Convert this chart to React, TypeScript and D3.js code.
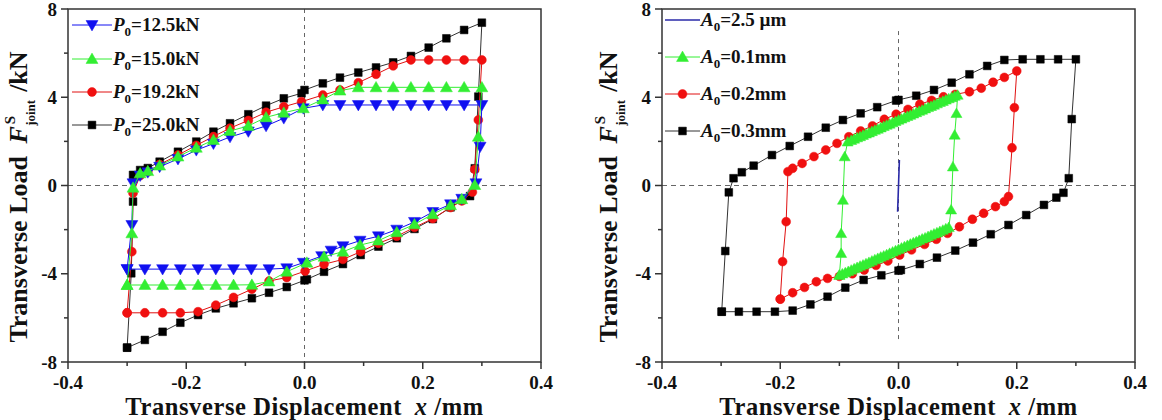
import React from 'react';
import * as d3 from 'd3';

// ---------- axes ----------
const xTicks = [-0.4, -0.2, 0, 0.2, 0.4];
const xTickLabels = ['-0.4', '-0.2', '0.0', '0.2', '0.4'];
const xMinor = [-0.3, -0.1, 0.1, 0.3];
const yTicks = [-8, -4, 0, 4, 8];
const yTickLabels = ['-8', '-4', '0', '4', '8'];
const yMinor = [-6, -2, 2, 6];

// ---------- left chart: P0 series ----------
const p125X = [-0.300, -0.292, -0.290, -0.278, -0.265, -0.245, -0.214, -0.183, -0.154, -0.126, -0.095, -0.065, -0.035, -0.002, 0.031, 0.060, 0.091, 0.121, 0.150, 0.180, 0.210, 0.240, 0.270, 0.300,
  0.297, 0.290, 0.266, 0.247, 0.217, 0.186, 0.156, 0.125, 0.094, 0.065, 0.045, 0.029, -0.002, -0.030, -0.060, -0.090, -0.120, -0.150, -0.180, -0.210, -0.240, -0.270, -0.300];
const p125Y = [-3.79, -1.79, 0.10, 0.45, 0.60, 0.85, 1.20, 1.60, 1.90, 2.20, 2.45, 2.70, 3.05, 3.50, 3.65, 3.65, 3.65, 3.65, 3.65, 3.65, 3.65, 3.65, 3.65, 3.65,
  1.76, 0.10, -0.60, -0.85, -1.20, -1.65, -2.00, -2.30, -2.50, -2.75, -2.95, -3.20, -3.50, -3.75, -3.79, -3.79, -3.79, -3.79, -3.79, -3.79, -3.79, -3.79, -3.79];

const p150X = [-0.300, -0.292, -0.290, -0.278, -0.265, -0.245, -0.214, -0.183, -0.154, -0.126, -0.095, -0.065, -0.035, -0.002, 0.031, 0.060, 0.091, 0.121, 0.150, 0.180, 0.210, 0.240, 0.270, 0.300,
  0.294, 0.288, 0.266, 0.247, 0.217, 0.186, 0.156, 0.125, 0.094, 0.065, 0.033, 0.004, -0.030, -0.060, -0.089, -0.120, -0.150, -0.180, -0.210, -0.240, -0.270, -0.300];
const p150Y = [-4.51, -2.17, -0.10, 0.55, 0.65, 0.90, 1.31, 1.71, 2.06, 2.47, 2.70, 3.09, 3.30, 3.50, 3.90, 4.30, 4.45, 4.45, 4.45, 4.45, 4.45, 4.45, 4.45, 4.45,
  2.21, 0.02, -0.62, -0.90, -1.30, -1.76, -2.12, -2.50, -2.70, -3.00, -3.23, -3.50, -3.91, -4.35, -4.50, -4.51, -4.51, -4.51, -4.51, -4.51, -4.51, -4.51];

const p192X = [-0.300, -0.292, -0.290, -0.278, -0.265, -0.245, -0.214, -0.183, -0.154, -0.126, -0.095, -0.065, -0.035, -0.005, 0.031, 0.060, 0.091, 0.121, 0.150, 0.180, 0.210, 0.240, 0.270, 0.300,
  0.294, 0.288, 0.284, 0.266, 0.247, 0.217, 0.186, 0.156, 0.125, 0.095, 0.065, 0.033, 0.001, -0.030, -0.060, -0.089, -0.120, -0.150, -0.180, -0.210, -0.240, -0.270, -0.300];
const p192Y = [-5.77, -3.00, -0.35, 0.45, 0.62, 0.95, 1.38, 1.82, 2.22, 2.60, 2.95, 3.32, 3.57, 3.80, 4.10, 4.33, 4.66, 5.04, 5.42, 5.69, 5.69, 5.69, 5.69, 5.69,
  2.97, 0.73, -0.30, -0.70, -1.00, -1.50, -1.90, -2.30, -2.62, -3.00, -3.35, -3.57, -3.88, -4.17, -4.33, -4.70, -5.07, -5.42, -5.72, -5.77, -5.77, -5.77, -5.77];

const p250X = [-0.300, -0.293, -0.290, -0.290, -0.278, -0.265, -0.245, -0.214, -0.183, -0.154, -0.126, -0.095, -0.065, -0.035, -0.005, 0.000, 0.031, 0.060, 0.091, 0.121, 0.150, 0.180, 0.210, 0.240, 0.270, 0.300,
  0.294, 0.288, 0.280, 0.266, 0.247, 0.217, 0.186, 0.156, 0.125, 0.095, 0.065, 0.033, 0.004, 0.000, -0.030, -0.060, -0.089, -0.120, -0.150, -0.180, -0.210, -0.240, -0.270, -0.300];
const p250Y = [-7.35, -3.98, -0.73, 0.48, 0.70, 0.79, 1.08, 1.53, 1.99, 2.44, 2.82, 3.23, 3.62, 3.95, 4.18, 4.33, 4.63, 4.89, 5.12, 5.35, 5.58, 5.87, 6.25, 6.67, 7.05, 7.38,
  4.03, 0.78, -0.48, -0.66, -0.99, -1.52, -1.97, -2.39, -2.77, -3.15, -3.56, -3.91, -4.25, -4.30, -4.60, -4.86, -5.11, -5.34, -5.57, -5.87, -6.22, -6.63, -7.00, -7.35];

// ---------- right chart: A0 series ----------
const a0025X = [-0.0015, 0.0015];
const a0025Y = [-1.19, 1.16];

const a01X = [-0.100, -0.097, -0.097, -0.094, -0.091,
  -0.086, -0.080, -0.075, -0.070, -0.065, -0.060, -0.055, -0.050, -0.045, -0.040, -0.035, -0.030, -0.025, -0.020, -0.015, -0.010, -0.005, 0.000,
  0.005, 0.010, 0.015, 0.020, 0.025, 0.030, 0.035, 0.040, 0.045, 0.050, 0.055, 0.060, 0.065, 0.070, 0.075, 0.080, 0.085, 0.090, 0.095, 0.100,
  0.098, 0.095, 0.092, 0.089,
  0.085, 0.080, 0.075, 0.070, 0.065, 0.060, 0.055, 0.050, 0.045, 0.040, 0.035, 0.030, 0.025, 0.020, 0.015, 0.010, 0.005, 0.000,
  -0.005, -0.010, -0.015, -0.020, -0.025, -0.030, -0.035, -0.040, -0.045, -0.050, -0.055, -0.060, -0.065, -0.070, -0.075, -0.080, -0.085, -0.090, -0.095, -0.100];
const a01Y = [-4.06, -3.07, -2.17, -0.66, 1.31,
  1.98, 2.05, 2.11, 2.17, 2.22, 2.28, 2.34, 2.39, 2.45, 2.51, 2.56, 2.62, 2.68, 2.74, 2.79, 2.85, 2.91, 2.97,
  3.02, 3.08, 3.14, 3.19, 3.25, 3.31, 3.37, 3.42, 3.48, 3.54, 3.59, 3.65, 3.71, 3.77, 3.82, 3.88, 3.94, 3.99, 4.05, 4.10,
  3.27, 2.29, 0.85, -1.10,
  -1.90, -1.96, -2.02, -2.08, -2.14, -2.19, -2.25, -2.31, -2.37, -2.42, -2.48, -2.54, -2.59, -2.65, -2.71, -2.77, -2.83, -2.89,
  -2.95, -3.01, -3.07, -3.13, -3.19, -3.24, -3.30, -3.36, -3.42, -3.48, -3.54, -3.60, -3.65, -3.71, -3.77, -3.83, -3.89, -3.95, -4.00, -4.06];

const a02X = [-0.200, -0.196, -0.190, -0.187, -0.179, -0.163, -0.143, -0.123, -0.104, -0.084, -0.064, -0.044, -0.024, -0.004, 0.016, 0.036, 0.056, 0.076, 0.096, 0.120, 0.140, 0.160, 0.179, 0.200,
  0.196, 0.192, 0.186, 0.179, 0.164, 0.144, 0.125, 0.103, 0.083, 0.064, 0.044, 0.022, 0.002, -0.018, -0.038, -0.058, -0.078, -0.100, -0.120, -0.139, -0.159, -0.179, -0.200];
const a02Y = [-5.15, -3.45, -1.64, 0.63, 0.78, 1.00, 1.31, 1.61, 1.91, 2.21, 2.47, 2.70, 3.00, 3.23, 3.45, 3.68, 3.86, 4.02, 4.13, 4.25, 4.41, 4.68, 4.90, 5.19,
  3.53, 1.71, -0.50, -0.73, -0.96, -1.26, -1.53, -1.87, -2.17, -2.44, -2.67, -2.92, -3.15, -3.42, -3.62, -3.83, -4.00, -4.12, -4.21, -4.36, -4.62, -4.86, -5.15];

const a03X = [-0.299, -0.293, -0.287, -0.279, -0.265, -0.245, -0.214, -0.184, -0.153, -0.123, -0.094, -0.064, -0.036, -0.004, 0.000, 0.030, 0.060, 0.090, 0.120, 0.150, 0.179, 0.210, 0.240, 0.270, 0.300,
  0.293, 0.288, 0.279, 0.267, 0.246, 0.216, 0.186, 0.156, 0.126, 0.096, 0.065, 0.036, 0.004, 0.000, -0.029, -0.059, -0.090, -0.120, -0.149, -0.179, -0.209, -0.240, -0.270, -0.299];
const a03Y = [-5.72, -2.97, -0.31, 0.33, 0.60, 0.90, 1.38, 1.79, 2.21, 2.62, 2.97, 3.27, 3.55, 3.85, 3.88, 4.07, 4.33, 4.66, 5.04, 5.42, 5.69, 5.72, 5.72, 5.72, 5.72,
  3.01, 0.33, -0.33, -0.55, -0.88, -1.34, -1.79, -2.21, -2.59, -2.95, -3.27, -3.56, -3.83, -3.86, -4.07, -4.28, -4.63, -5.04, -5.39, -5.67, -5.72, -5.72, -5.72, -5.72];

type Marker = 'square' | 'circle' | 'triUp' | 'triDown' | 'none';
interface Series { xs: number[]; ys: number[]; color: string; line: string; marker: Marker; prefix: string; label: string; lw: number; }

const leftSeries: Series[] = [
  { xs: p125X, ys: p125Y, color: '#1010f0', line: '#1010f0', marker: 'triDown', prefix: 'P', label: '=12.5kN', lw: 1 },
  { xs: p150X, ys: p150Y, color: '#33ee33', line: '#33ee33', marker: 'triUp', prefix: 'P', label: '=15.0kN', lw: 1 },
  { xs: p192X, ys: p192Y, color: '#f01010', line: '#e01010', marker: 'circle', prefix: 'P', label: '=19.2kN', lw: 1 },
  { xs: p250X, ys: p250Y, color: '#000000', line: '#333333', marker: 'square', prefix: 'P', label: '=25.0kN', lw: 1 },
];
const leftDrawOrder = [3, 2, 0, 1];

const rightSeries: Series[] = [
  { xs: a0025X, ys: a0025Y, color: '#2a2aa8', line: '#2a2aa8', marker: 'none', prefix: 'A', label: '=2.5 \u00b5m', lw: 1.6 },
  { xs: a01X, ys: a01Y, color: '#33ee33', line: '#33ee33', marker: 'triUp', prefix: 'A', label: '=0.1mm', lw: 1 },
  { xs: a02X, ys: a02Y, color: '#f01010', line: '#e01010', marker: 'circle', prefix: 'A', label: '=0.2mm', lw: 1 },
  { xs: a03X, ys: a03Y, color: '#000000', line: '#333333', marker: 'square', prefix: 'A', label: '=0.3mm', lw: 1 },
];
const rightDrawOrder = [3, 2, 1, 0];

const FONT = "'Liberation Serif', 'Times New Roman', serif";

function markerPath(m: Marker, small = false): string | null {
  const k = small ? 0.85 : 1;
  switch (m) {
    case 'square': return d3.symbol(d3.symbolSquare, 60 * k)();
    case 'circle': return d3.symbol(d3.symbolCircle, 62 * k)();
    case 'triUp':
    case 'triDown': return d3.symbol(d3.symbolTriangle, 62 * k)();
    default: return null;
  }
}

function MarkerShape({ m, x, y, color, small }: { m: Marker; x: number; y: number; color: string; small?: boolean }) {
  const p = markerPath(m, small);
  if (!p) return null;
  const rot = m === 'triDown' ? ' rotate(180)' : '';
  const dy = m === 'triUp' ? 1 : m === 'triDown' ? -1 : 0;
  return <path d={p} transform={`translate(${x},${y + dy})${rot}`} fill={color} stroke={color} strokeWidth={0.5} />;
}

interface PanelProps {
  x0: number; x1: number; y0: number; y1: number;
  series: Series[]; order: number[];
  legendX: number; legendLineEnd: number; legendYs: number[];
  vDash: [number, number];
  yLabelX: number; denseSmall?: boolean;
}

function Panel(p: PanelProps) {
  const xs = d3.scaleLinear().domain([-0.4, 0.4]).range([p.x0, p.x1]);
  const ys = d3.scaleLinear().domain([-8, 8]).range([p.y1, p.y0]);
  const line = d3.line<[number, number]>().x(d => xs(d[0])).y(d => ys(d[1]));
  const axisColor = '#333';
  const cx = (p.x0 + p.x1) / 2;
  return (
    <g>
      {/* dashed zero lines */}
      <line x1={p.x0} x2={p.x1} y1={ys(0)} y2={ys(0)} stroke="#666" strokeDasharray="5,4" strokeWidth={1} />
      <line x1={xs(0)} x2={xs(0)} y1={ys(p.vDash[1])} y2={ys(p.vDash[0])} stroke="#666" strokeDasharray="4,4" strokeWidth={1} />
      {/* data */}
      {p.order.map(i => {
        const s = p.series[i];
        const pts: [number, number][] = s.xs.map((x, j) => [x, s.ys[j]]);
        return (
          <g key={i}>
            <path d={line(pts) || ''} fill="none" stroke={s.line} strokeWidth={s.lw} />
            {s.marker !== 'none' && pts.map((d, j) => (
              <MarkerShape key={j} m={s.marker} x={xs(d[0])} y={ys(d[1])} color={s.color} small={p.denseSmall && s.marker === 'triUp'} />
            ))}
          </g>
        );
      })}
      {/* frame */}
      <rect x={p.x0} y={p.y0} width={p.x1 - p.x0} height={p.y1 - p.y0} fill="none" stroke={axisColor} strokeWidth={1.5} />
      {/* x ticks */}
      {xTicks.map((t, i) => (
        <g key={'xt' + i}>
          <line x1={xs(t)} x2={xs(t)} y1={p.y1} y2={p.y1 + 7} stroke={axisColor} strokeWidth={1.5} />
          <text x={xs(t)} y={p.y1 + 26.5} textAnchor="middle" fontFamily={FONT} fontWeight="bold" fontSize={19} fill="#111">{xTickLabels[i]}</text>
        </g>
      ))}
      {xMinor.map((t, i) => (
        <line key={'xm' + i} x1={xs(t)} x2={xs(t)} y1={p.y1} y2={p.y1 + 4} stroke={axisColor} strokeWidth={1.5} />
      ))}
      {/* y ticks */}
      {yTicks.map((t, i) => (
        <g key={'yt' + i}>
          <line x1={p.x0 - 7} x2={p.x0} y1={ys(t)} y2={ys(t)} stroke={axisColor} strokeWidth={1.5} />
          <text x={p.x0 - 11} y={ys(t) + 6.5} textAnchor="end" fontFamily={FONT} fontWeight="bold" fontSize={19} fill="#111">{yTickLabels[i]}</text>
        </g>
      ))}
      {yMinor.map((t, i) => (
        <line key={'ym' + i} x1={p.x0 - 4} x2={p.x0} y1={ys(t)} y2={ys(t)} stroke={axisColor} strokeWidth={1.5} />
      ))}
      {/* legend */}
      {p.series.map((s, i) => {
        const ly = p.legendYs[i];
        const mx = (p.legendX + p.legendLineEnd) / 2;
        return (
          <g key={'lg' + i}>
            <line x1={p.legendX} x2={p.legendLineEnd} y1={ly} y2={ly} stroke={s.line} strokeWidth={s.lw} />
            {s.marker !== 'none' && <MarkerShape m={s.marker} x={mx} y={ly} color={s.color} />}
            <text x={p.legendLineEnd + 1} y={ly + 6} fontFamily={FONT} fontWeight="bold" fontSize={19} fill="#111">
              <tspan fontStyle="italic">{s.prefix}</tspan>
              <tspan fontSize={13} dy={5}>0</tspan>
              <tspan dy={-5}>{s.label}</tspan>
            </text>
          </g>
        );
      })}
      {/* y label */}
      <text transform={`translate(${p.yLabelX},${197}) rotate(-90)`} textAnchor="middle" fontFamily={FONT} fontWeight="bold" fontSize={26} fill="#111">
        <tspan>Transverse Load </tspan>
        <tspan fontStyle="italic" dx={6}>F</tspan>
        <tspan fontSize={15} dy={-12} dx={2}>S</tspan>
        <tspan fontSize={13} dy={20} dx={-10}>joint</tspan>
        <tspan dy={-8} dx={8}>/kN</tspan>
      </text>
      {/* x label */}
      <text x={cx} y={414.5} textAnchor="middle" fontFamily={FONT} fontWeight="bold" fontSize={24.5} letterSpacing={0.6} fill="#111">
        <tspan>Transverse Displacement </tspan>
        <tspan fontStyle="italic" dx={6}>x</tspan>
        <tspan> /mm</tspan>
      </text>
    </g>
  );
}

export default function App() {
  return (
    <svg width={1162} height={420} viewBox="0 0 1162 420" style={{ position: 'absolute', left: 0, top: 0, background: '#fff' }}>
      <rect x={0} y={0} width={1162} height={420} fill="#fff" />
      <Panel x0={68} x1={541} y0={9} y1={362} series={leftSeries} order={leftDrawOrder}
        legendX={72} legendLineEnd={112} legendYs={[25, 59, 92, 125]} vDash={[-8, 8]} yLabelX={27} />
      <Panel x0={662} x1={1135} y0={9} y1={362} series={rightSeries} order={rightDrawOrder}
        legendX={665} legendLineEnd={700} legendYs={[20, 57, 94, 131]} vDash={[-7, 7]} yLabelX={617} denseSmall />
    </svg>
  );
}
